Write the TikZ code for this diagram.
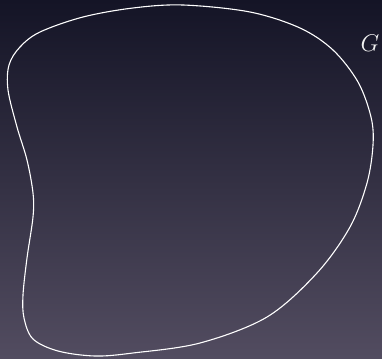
\documentclass[tikz,border=0pt]{standalone}
\usepackage{amsmath, amssymb}
\usepackage{tikz}

\definecolor{bgtop}{RGB}{20,20,38}
\definecolor{bgbot}{RGB}{82,76,96}

\begin{document}
\begin{tikzpicture}[x=1pt, y=-1pt]
  %--- background ---
  \shade[top color=bgtop, bottom color=bgbot] (0,0) rectangle (382,358);
  \useasboundingbox (0,0) rectangle (382,358);
  %--- region boundary ---
  \draw[white, line width=1.1pt] plot[smooth cycle, tension=0.55] coordinates {
    (183,5) (250,12) (300,28) (333,50) (358,82) (371,117) (373,145)
    (367,183) (350,227) (317,273) (267,317) (200,343) (133,353)
    (95,356) (58,351) (33,339) (24,318) (23,295) (27,258) (33,217)
    (33,193) (27,160) (17,127) (8,90) (9,65) (20,47) (40,32)
    (83,17) (133,8)};
  %--- label ---
  \node[white!90!gray, font=\LARGE, scale=1.4] (lblG) at (370,43) {$G$};
\end{tikzpicture}
\end{document}
